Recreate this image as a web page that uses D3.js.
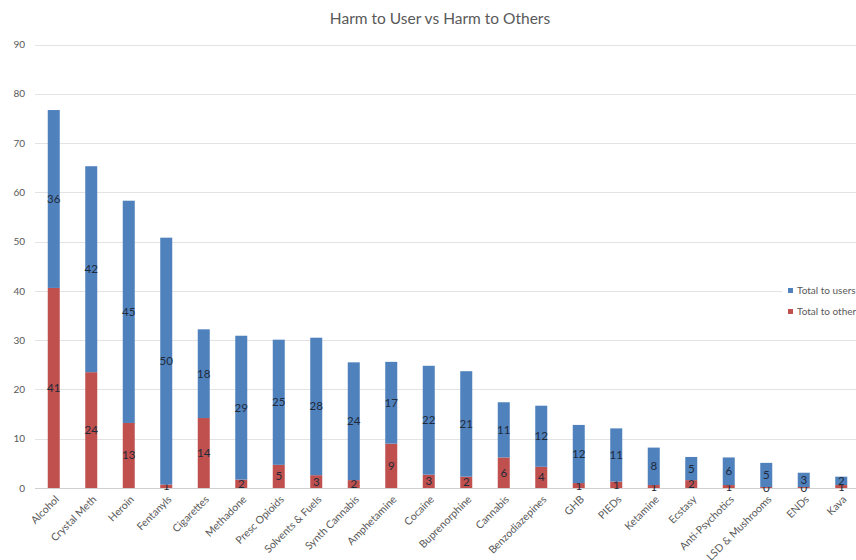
<!DOCTYPE html>
<html>
<head>
<meta charset="utf-8">
<script src="https://cdn.jsdelivr.net/npm/d3@7"></script>
<style>
  body { margin: 0; background: #fff; }
  svg { display: block; font-family: Lato, "Open Sans", sans-serif; }
</style>
</head>
<body>
<div id="grafico"></div>
<script>
// Categorias e valores
const drogas = ['Alcohol', 'Crystal Meth', 'Heroin', 'Fentanyls', 'Cigarettes', 'Methadone',
	'Presc Opioids', 'Solvents & Fuels', 'Synth Cannabis', 'Amphetamine', 'Cocaine',
	'Buprenorphine', 'Cannabis', 'Benzodiazepines', 'GHB', 'PIEDs', 'Ketamine', 'Ecstasy',
	'Anti-Psychotics', 'LSD & Mushrooms', 'ENDs', 'Kava'];

const totalOutros = [40.6, 23.5, 13.2, 0.7, 14.2, 1.7, 4.7, 2.6, 1.6, 9.0, 2.7,
	2.3, 6.2, 4.3, 1.0, 1.3, 0.6, 1.6, 0.6, 0.2, 0.2, 0.6];

const totalUsuarios = [36.1, 41.8, 45.1, 50.1, 18.0, 29.2, 25.4, 27.9, 23.9, 16.6, 22.1,
	21.4, 11.2, 12.4, 11.8, 10.8, 7.6, 4.7, 5.6, 4.9, 2.9, 1.7];

const yTicks = [0, 10, 20, 30, 40, 50, 60, 70, 80, 90];

const series = [
	{ nome: 'Total to users', cor: '#4f81bd' },
	{ nome: 'Total to others', cor: '#c0504d' }
];

const width = 856;
const height = 560;

const svg = d3.select('#grafico')
	.append('svg')
	.attr('width', width)
	.attr('height', height);

const x = d3.scaleBand()
	.domain(drogas)
	.range([35, 860])
	.paddingInner(0.68)
	.paddingOuter(0.34);

const y = d3.scaleLinear()
	.domain([0, 90])
	.range([488, 44.5]);

// Título
svg.append('text')
	.attr('x', 440)
	.attr('y', 24)
	.attr('text-anchor', 'middle')
	.attr('font-size', 15.5)
	.attr('fill', '#595959')
	.text('Harm to User vs Harm to Others');

// Linhas de grade
svg.append('g')
	.selectAll('line')
	.data(yTicks)
	.enter()
	.append('line')
	.attr('x1', 35)
	.attr('x2', width)
	.attr('y1', d => Math.round(y(d)) + 0.5)
	.attr('y2', d => Math.round(y(d)) + 0.5)
	.attr('stroke', d => d === 0 ? '#d0d0d0' : '#e3e3e3')
	.attr('stroke-width', 1);

// Eixo Y
const eixoY = svg.append('g')
	.attr('transform', 'translate(25,0)')
	.call(d3.axisLeft(y).tickValues(yTicks).tickSize(0).tickPadding(0));
eixoY.select('.domain').remove();
eixoY.selectAll('text')
	.attr('font-size', 10)
	.attr('fill', '#595959')
	.attr('font-family', 'Lato, sans-serif');

// Dados empilhados
const linhas = drogas.map((d, i) => ({ droga: d, outros: totalOutros[i], usuarios: totalUsuarios[i] }));
const pilha = d3.stack().keys(['outros', 'usuarios'])(linhas);
const cores = { outros: '#c0504d', usuarios: '#4f81bd' };

const camadas = svg.append('g')
	.selectAll('g')
	.data(pilha)
	.enter()
	.append('g')
	.attr('fill', d => cores[d.key]);

camadas.selectAll('rect')
	.data(d => d)
	.enter()
	.append('rect')
	.attr('x', d => x(d.data.droga))
	.attr('width', x.bandwidth())
	.attr('y', d => y(d[1]))
	.attr('height', d => y(d[0]) - y(d[1]));

// Rótulos dos valores
const fmt = d3.format('.0f');
camadas.selectAll('text')
	.data(d => d.map(p => ({ p: p, v: p[1] - p[0] })))
	.enter()
	.append('text')
	.attr('x', d => x(d.p.data.droga) + x.bandwidth() / 2)
	.attr('y', d => (y(d.p[0]) + y(d.p[1])) / 2 + 4)
	.attr('text-anchor', 'middle')
	.attr('font-size', 11.5)
	.attr('fill', '#1f2a3a')
	.text(d => fmt(d.v));

// Rótulos do eixo X
svg.append('g')
	.selectAll('text')
	.data(drogas)
	.enter()
	.append('text')
	.attr('transform', d => `translate(${x(d) + x.bandwidth() / 2 + 6},${500}) rotate(-45)`)
	.attr('text-anchor', 'end')
	.attr('font-size', 10.5)
	.attr('fill', '#595959')
	.text(d => d);

// Legenda
const legenda = svg.append('g').attr('transform', 'translate(782,280)');
legenda.append('rect')
	.attr('width', 80)
	.attr('height', 44)
	.attr('fill', '#fff');
const itens = legenda.selectAll('g.item')
	.data(series)
	.enter()
	.append('g')
	.attr('class', 'item')
	.attr('transform', (d, i) => `translate(6,${8 + i * 21})`);
itens.append('rect')
	.attr('width', 5)
	.attr('height', 5)
	.attr('fill', d => d.cor);
itens.append('text')
	.attr('x', 9)
	.attr('y', 6)
	.attr('font-size', 10)
	.attr('fill', '#595959')
	.text(d => d.nome);
</script>
</body>
</html>
